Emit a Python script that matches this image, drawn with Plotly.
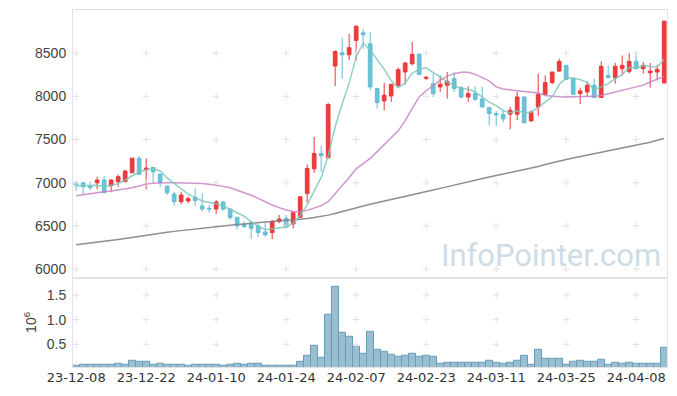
import plotly.graph_objects as go
from plotly.subplots import make_subplots

dates = ("23-12-08 23-12-11 23-12-12 23-12-13 23-12-14 23-12-15 23-12-18 23-12-19 23-12-20 23-12-21 "
         "23-12-22 23-12-26 23-12-27 23-12-28 24-01-02 24-01-03 24-01-04 24-01-05 24-01-08 24-01-09 "
         "24-01-10 24-01-11 24-01-12 24-01-15 24-01-16 24-01-17 24-01-18 24-01-19 24-01-22 24-01-23 "
         "24-01-24 24-01-25 24-01-26 24-01-29 24-01-30 24-01-31 24-02-01 24-02-02 24-02-05 24-02-06 "
         "24-02-07 24-02-08 24-02-13 24-02-14 24-02-15 24-02-16 24-02-19 24-02-20 24-02-21 24-02-22 "
         "24-02-23 24-02-26 24-02-27 24-02-28 24-02-29 24-03-04 24-03-05 24-03-06 24-03-07 24-03-08 "
         "24-03-11 24-03-12 24-03-13 24-03-14 24-03-15 24-03-18 24-03-19 24-03-20 24-03-21 24-03-22 "
         "24-03-25 24-03-26 24-03-27 24-03-28 24-03-29 24-04-01 24-04-02 24-04-03 24-04-04 24-04-05 "
         "24-04-08 24-04-09 24-04-11 24-04-12 24-04-15").split()

opens = [6990, 7000, 6965, 6999, 7031, 6965, 7012, 7012, 7116, 7281,
         7150, 7177, 7100, 6961, 6869, 6781, 6789, 6831, 6731, 6704,
         6696, 6777, 6696, 6600, 6519, 6538, 6500, 6431, 6423, 6550,
         6588, 6523, 6600, 6877, 7162, 7339, 7289, 8351, 8505, 8482,
         8648, 8736, 8609, 8090, 7947, 8005, 8128, 8282, 8378, 8490,
         8209, 8147, 8109, 8128, 8205, 8101, 7993, 8032, 7970, 7870,
         7801, 7789, 7793, 7793, 7993, 7716, 7878, 8024, 8159, 8293,
         8359, 8201, 8032, 8051, 8128, 7986, 8243, 8216, 8321, 8290,
         8405, 8321, 8274, 8282, 8155]
highs = [7020, 7005, 7012, 7070, 7077, 7040, 7097, 7146, 7285, 7312,
         7281, 7185, 7100, 6961, 6896, 6896, 6839, 6935, 6877, 6742,
         6800, 6789, 6700, 6600, 6550, 6557, 6530, 6538, 6569, 6627,
         6627, 6665, 6840, 7212, 7531, 7427, 7924, 8532, 8678, 8725,
         8821, 8782, 8744, 8101, 8155, 8140, 8332, 8398, 8628, 8494,
         8232, 8263, 8243, 8282, 8282, 8120, 8116, 8116, 8116, 7878,
         7832, 7839, 7878, 8051, 8001, 7839, 8263, 8243, 8282, 8436,
         8367, 8224, 8101, 8174, 8205, 8405, 8359, 8386, 8474, 8501,
         8513, 8398, 8386, 8367, 8871]
lows = [6910, 6866, 6915, 6923, 6877, 6889, 6954, 7012, 7108, 7089,
        6923, 6999, 6954, 6858, 6735, 6750, 6762, 6731, 6666, 6654,
        6639, 6677, 6569, 6461, 6473, 6350, 6369, 6377, 6346, 6530,
        6473, 6473, 6600, 6769, 7116, 7127, 7289, 8120, 8205, 8416,
        8416, 8551, 8070, 7859, 7839, 7936, 8109, 8140, 8359, 8243,
        8190, 7993, 8051, 7974, 8051, 7974, 7936, 7947, 7870, 7666,
        7655, 7697, 7620, 7724, 7693, 7704, 7770, 8024, 8140, 8282,
        8186, 8013, 7909, 7993, 7986, 7986, 8216, 8147, 8243, 8263,
        8309, 8263, 8101, 8186, 8155]
closes = [6975, 6954, 6942, 7031, 6885, 7031, 7070, 7135, 7285, 7097,
          7170, 7127, 7003, 6885, 6781, 6858, 6816, 6793, 6696, 6696,
          6777, 6693, 6596, 6500, 6492, 6473, 6423, 6396, 6550, 6580,
          6484, 6654, 6838, 7166, 7339, 7312, 7905, 8520, 8482, 8563,
          8813, 8713, 8109, 7928, 8013, 8140, 8309, 8386, 8486, 8255,
          8220, 8032, 8140, 8174, 8090, 7993, 8032, 7966, 7878, 7801,
          7786, 7739, 7839, 7993, 7693, 7816, 8024, 8159, 8282, 8405,
          8197, 8024, 8063, 8128, 7986, 8348, 8216, 8348, 8359, 8405,
          8321, 8359, 8293, 8313, 8871]

ma5 = [6962, 6968, 6966, 6972, 6957, 6969, 6992, 7030, 7081, 7124,
       7151, 7163, 7136, 7056, 6993, 6931, 6869, 6827, 6789, 6772,
       6756, 6731, 6692, 6652, 6612, 6551, 6497, 6457, 6467, 6484,
       6487, 6533, 6621, 6744, 6896, 7062, 7312, 7648, 7912, 8156,
       8457, 8618, 8536, 8425, 8315, 8181, 8100, 8155, 8267, 8315,
       8331, 8276, 8227, 8164, 8131, 8086, 8086, 8051, 7992, 7934,
       7893, 7834, 7809, 7832, 7810, 7816, 7873, 7937, 7995, 8137,
       8213, 8213, 8194, 8163, 8080, 8110, 8148, 8205, 8251, 8335,
       8330, 8358, 8347, 8338, 8431]
ma20 = [6849, 6862, 6876, 6886, 6896, 6905, 6915, 6928, 6942, 6962,
        6984, 6993, 6999, 6999, 6999, 6999, 6999, 6996, 6992, 6983,
        6973, 6958, 6942, 6915, 6888, 6855, 6819, 6780, 6742, 6712,
        6685, 6668, 6665, 6680, 6704, 6735, 6781, 6870, 6960, 7060,
        7160, 7225, 7281, 7360, 7435, 7520, 7601, 7720, 7860, 7993,
        8065, 8130, 8186, 8235, 8263, 8280, 8280, 8255, 8220, 8180,
        8110, 8085, 8075, 8068, 8060, 8050, 8040, 8010, 8000, 7995,
        7993, 7993, 7993, 7995, 8000, 8010, 8030, 8051, 8070, 8095,
        8110, 8130, 8167, 8195, 8232]
ma60 = [6281, 6290, 6300, 6310, 6320, 6332, 6343, 6355, 6368, 6382,
        6396, 6407, 6417, 6427, 6437, 6447, 6456, 6465, 6474, 6483,
        6492, 6500, 6508, 6516, 6524, 6531, 6538, 6545, 6552, 6559,
        6566, 6570, 6575, 6585, 6597, 6610, 6625, 6645, 6668, 6690,
        6710, 6730, 6750, 6768, 6784, 6800, 6817, 6838, 6858, 6878,
        6897, 6915, 6935, 6955, 6975, 6995, 7015, 7033, 7050, 7067,
        7085, 7101, 7117, 7133, 7150, 7166, 7188, 7210, 7232, 7252,
        7270, 7286, 7302, 7318, 7334, 7350, 7366, 7382, 7398, 7414,
        7430, 7450, 7470, 7491, 7512]
volume_m = [0.06, 0.08, 0.08, 0.095, 0.095, 0.08, 0.115, 0.095, 0.175, 0.155,
            0.155, 0.095, 0.115, 0.095, 0.095, 0.095, 0.075, 0.095, 0.095, 0.08,
            0.095, 0.075, 0.095, 0.115, 0.095, 0.115, 0.115, 0.075, 0.075, 0.075,
            0.075, 0.075, 0.155, 0.277, 0.48, 0.236, 1.108, 1.676, 0.743, 0.66,
            0.46, 0.30, 0.76, 0.40, 0.34, 0.28, 0.24, 0.26, 0.30, 0.24,
            0.26, 0.24, 0.115, 0.135, 0.135, 0.135, 0.135, 0.135, 0.135, 0.175,
            0.135, 0.115, 0.135, 0.175, 0.277, 0.095, 0.38, 0.216, 0.216, 0.216,
            0.095, 0.155, 0.175, 0.155, 0.155, 0.196, 0.095, 0.135, 0.115, 0.135,
            0.115, 0.115, 0.115, 0.115, 0.44]

price_ticks = [6000, 6500, 7000, 7500, 8000, 8500]
volume_ticks = [0.5, 1.0, 1.5]
tick_step = 10

idx = list(range(len(dates)))
xt = idx[::tick_step]
xt_text = dates[::tick_step]

fig = make_subplots(rows=2, cols=1, shared_xaxes=True, vertical_spacing=0,
                    row_heights=[0.75, 0.25])

# grid crosses
cross = dict(symbol="cross-thin", size=5, line=dict(width=1, color="#e2e2e2"), color="#e2e2e2")
fig.add_trace(go.Scatter(x=[x for x in xt for _ in price_ticks],
                         y=[y for _ in xt for y in price_ticks],
                         mode="markers", marker=cross, hoverinfo="skip", showlegend=False),
              row=1, col=1)
fig.add_trace(go.Scatter(x=[x for x in xt for _ in volume_ticks],
                         y=[y for _ in xt for y in volume_ticks],
                         mode="markers", marker=cross, hoverinfo="skip", showlegend=False),
              row=2, col=1)

fig.add_trace(go.Candlestick(x=idx, open=opens, high=highs, low=lows, close=closes,
                             increasing=dict(line=dict(color="#e8383b", width=1), fillcolor="#ef3b3e"),
                             decreasing=dict(line=dict(color="#62bcd3", width=1), fillcolor="#6cc3d8"),
                             whiskerwidth=0, showlegend=False, hoverinfo="skip"),
              row=1, col=1)

for vals, col in [(ma60, "rgba(130,130,130,0.9)"), (ma20, "rgba(200,130,195,0.85)"),
                  (ma5, "rgba(125,200,185,0.85)")]:
    fig.add_trace(go.Scatter(x=idx, y=vals, mode="lines", line=dict(color=col, width=1.5),
                             hoverinfo="skip", showlegend=False), row=1, col=1)

fig.add_trace(go.Bar(x=idx, y=volume_m, marker=dict(color="rgba(125,172,196,0.78)",
                                                    line=dict(color="#6a9db5", width=1)),
                     showlegend=False, hoverinfo="skip"), row=2, col=1)

axis_line = dict(showline=True, mirror=True, linecolor="#e3e3e3", linewidth=1,
                 showgrid=False, zeroline=False, automargin=False)
xr = [-0.45, 84.4]
fig.update_xaxes(**axis_line, range=xr, tickvals=xt, ticktext=xt_text, ticks="")
fig.update_xaxes(showticklabels=False, rangeslider=dict(visible=False), row=1, col=1)
fig.update_xaxes(tickfont=dict(family="DejaVu Sans", size=13, color="#333333"),
                 ticklabelstandoff=-2, row=2, col=1)

fig.update_yaxes(**axis_line, range=[5900, 9000], tickvals=price_ticks,
                 ticks="outside", ticklen=3, tickcolor="rgba(0,0,0,0)",
                 tickfont=dict(family="Liberation Sans", size=14, color="#444444"), row=1, col=1)
fig.update_yaxes(**axis_line, range=[0.04, 1.85], tickvals=volume_ticks,
                 tickformat=".1f", ticks="outside", ticklen=3, tickcolor="rgba(0,0,0,0)",
                 tickfont=dict(family="Liberation Sans", size=14, color="#444444"),
                 title=dict(text="10<sup>6</sup>", standoff=6,
                            font=dict(family="Liberation Sans", size=14, color="#444444")),
                 row=2, col=1)

fig.add_annotation(text="InfoPointer.com", xref="paper", yref="paper", x=0.993, y=0.3137,
                   xanchor="right", yanchor="middle", showarrow=False,
                   font=dict(family="Roboto", size=31, color="#cddce6"))

fig.update_layout(width=677, height=396, margin=dict(l=73, r=10, t=10, b=29),
                  paper_bgcolor="white", plot_bgcolor="white", bargap=0, boxgap=0.25,
                  showlegend=False)

fig.write_html("out.html", config={"displayModeBar": False},
               post_script="document.body.style.margin='0';")
